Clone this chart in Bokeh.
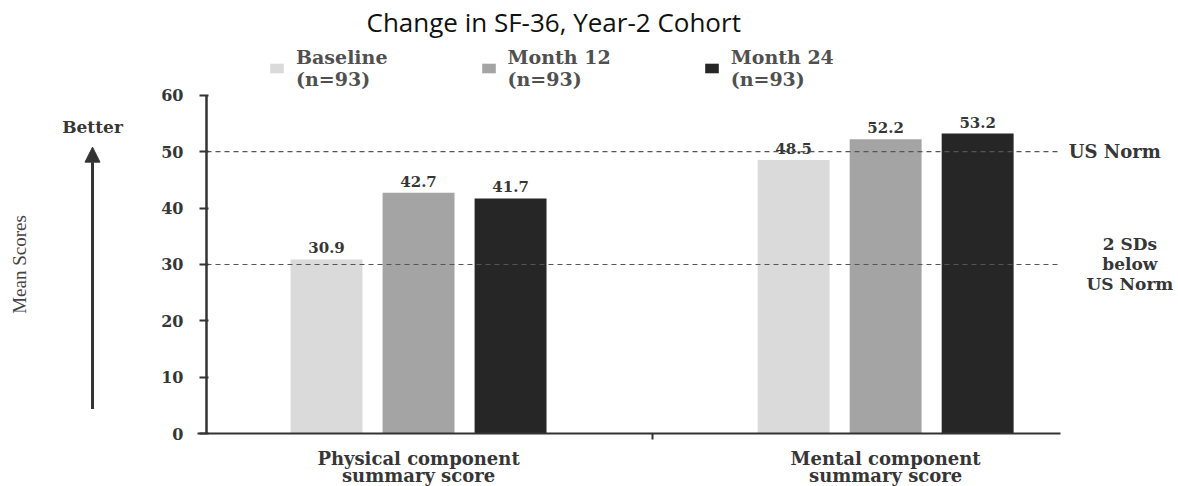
from bokeh.plotting import figure
from bokeh.models import (ColumnDataSource, Range1d, FixedTicker, Legend, LegendItem,
                          Arrow, NormalHead)
from bokeh.embed import file_html
from bokeh.resources import INLINE
from bokeh.core.properties import value

# ---- data ----
title_text = "Change in SF-36, Year-2 Cohort"
groups = ["Physical component\nsummary score", "Mental component\nsummary score"]
series = ["Baseline\n(n=93)", "Month 12\n(n=93)", "Month 24\n(n=93)"]
baseline = [30.9, 48.5]
month12 = [42.7, 52.2]
month24 = [41.7, 53.2]
colors = ["#dadada", "#a4a4a4", "#262626"]
us_norm = 50
two_sd_below = 30
y_ticks = [0, 10, 20, 30, 40, 50, 60]
y_label = "Mean Scores"
better_label = "Better"
norm_label = "US Norm"
sd_label = "2 SDs\nbelow\nUS Norm"

# ---- layout ----
serif = "DejaVu Serif"
txt = "#363636"
group_pos = [0, 1]
offsets = [-0.197, 0.0, 0.197]
bar_w = 0.154
y_axis_x = -0.454        # where the value axis stands
x_axis_end = 1.375       # where the baseline / reference lines stop
arrow_x = -0.698

p = figure(width=1178, height=486, x_range=Range1d(-0.895, 1.627), y_range=Range1d(-9.35, 69.7),
           output_backend="svg", toolbar_location=None, title=title_text,
           min_border_left=0, min_border_right=0, min_border_top=38, min_border_bottom=0)
p.outline_line_color = None
p.grid.grid_line_color = None

p.title.text_font = "Open Sans"
p.title.text_font_size = "26px"
p.title.text_font_style = "normal"
p.title.text_color = "#111111"
p.title.align = "left"
p.title.offset = 366
p.title.standoff = 2

items = []
for s, vals in enumerate([baseline, month12, month24]):
    src = ColumnDataSource(dict(x=[g + offsets[s] for g in group_pos], top=vals,
                                lab=["%.1f" % v for v in vals]))
    r = p.vbar(x="x", top="top", width=bar_w, source=src, fill_color=colors[s], line_color=None)
    p.text(x="x", y="top", text="lab", source=src, text_align="center", text_baseline="bottom",
           y_offset=-6, text_font=value(serif), text_font_style="bold", text_font_size="15px",
           text_color=txt)
    items.append(LegendItem(label=series[s], renderers=[r]))

# reference lines (drawn over the bars, as in the source)
ref_src = ColumnDataSource(dict(x0=[y_axis_x, y_axis_x], x1=[x_axis_end, x_axis_end],
                                y=[us_norm, two_sd_below]))
p.segment(x0="x0", y0="y", x1="x1", y1="y", source=ref_src, line_color="#555555",
          line_width=1.2, line_dash="5 4")

# right-hand notes
note_src = ColumnDataSource(dict(x=[x_axis_end + 0.017], y=[us_norm], t=[norm_label]))
p.text(x="x", y="y", text="t", source=note_src, text_align="left", text_baseline="middle",
       text_font=value(serif), text_font_style="bold", text_font_size="18px", text_color=txt)
sd_src = ColumnDataSource(dict(x=[1.523], y=[two_sd_below], t=[sd_label]))
p.text(x="x", y="y", text="t", source=sd_src, text_align="center", text_baseline="middle",
       text_line_height=1.0,
       text_font=value(serif), text_font_style="bold", text_font_size="17px", text_color=txt)

# "Better" arrow at the left
better_src = ColumnDataSource(dict(x=[arrow_x], y=[54.4], t=[better_label]))
p.text(x="x", y="y", text="t", source=better_src, text_align="center", text_baseline="middle",
       text_font=value(serif), text_font_style="bold", text_font_size="17px", text_color=txt)
p.add_layout(Arrow(x_start=arrow_x, y_start=4.4, x_end=arrow_x, y_end=50.8, line_width=3,
                   line_color="#333333",
                   end=NormalHead(size=15, fill_color="#333333", line_color="#333333")))

legend = Legend(items=items, orientation="horizontal", location=(268, 396), margin=0, padding=0,
                spacing=92, glyph_width=17, glyph_height=12, label_standoff=11,
                border_line_color=None, background_fill_alpha=0,
                label_text_font=serif, label_text_font_style="bold", label_text_font_size="19px",
                label_text_line_height=1.3, label_text_color="#505050")
p.add_layout(legend, "center")

# value axis
p.yaxis.fixed_location = y_axis_x
p.yaxis.bounds = (0, 60)
p.yaxis.ticker = FixedTicker(ticks=y_ticks)
p.yaxis.axis_label = y_label
p.yaxis.axis_label_text_font = "Liberation Serif"
p.yaxis.axis_label_text_font_style = "normal"
p.yaxis.axis_label_text_font_size = "19px"
p.yaxis.axis_label_text_color = "#444444"
p.yaxis.axis_label_standoff = 128
p.yaxis.major_label_text_font = serif
p.yaxis.major_label_text_font_style = "bold"
p.yaxis.major_label_text_font_size = "16px"
p.yaxis.major_label_text_color = txt
p.yaxis.major_label_standoff = 16
p.yaxis.major_tick_out = 7
p.yaxis.major_tick_in = 2
p.yaxis.minor_tick_line_color = None
p.yaxis.axis_line_width = 2.5
p.yaxis.axis_line_color = "#333333"
p.yaxis.major_tick_line_width = 2
p.yaxis.major_tick_line_color = "#333333"

# category axis
p.xaxis.fixed_location = 0
p.xaxis.bounds = (y_axis_x - 0.02, x_axis_end)
p.xaxis.ticker = FixedTicker(ticks=group_pos, minor_ticks=[0.5])
p.xaxis.major_label_overrides = {g: lab for g, lab in zip(group_pos, groups)}
p.xaxis.major_tick_line_color = None
p.xaxis.major_tick_out = 0
p.xaxis.major_tick_in = 0
p.xaxis.minor_tick_out = 6
p.xaxis.minor_tick_in = 0
p.xaxis.minor_tick_line_width = 2
p.xaxis.minor_tick_line_color = "#333333"
p.xaxis.axis_line_width = 2
p.xaxis.axis_line_color = "#333333"
p.xaxis.major_label_text_font = serif
p.xaxis.major_label_text_font_style = "bold"
p.xaxis.major_label_text_font_size = "18px"
p.xaxis.major_label_text_line_height = 0.8
p.xaxis.major_label_text_color = txt
p.xaxis.major_label_standoff = 8

open("out.html", "w").write(file_html(p, INLINE))
